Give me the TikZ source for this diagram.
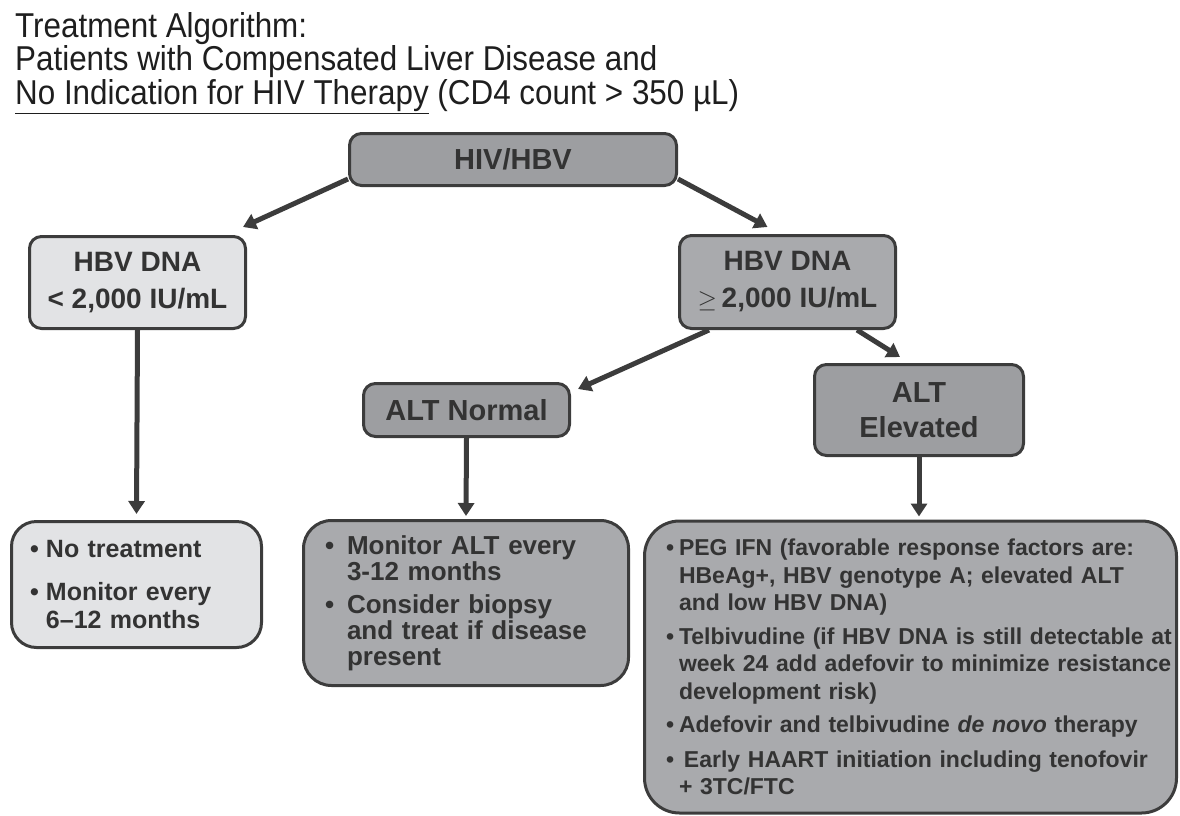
\documentclass[tikz,border=0pt]{standalone}
\usepackage{fontspec}
\setmainfont{Liberation Sans}
\newfontfamily\headfont{Liberation Sans}[FakeStretch=0.91]
\usetikzlibrary{arrows.meta}

\definecolor{boxdark}{HTML}{9D9EA1}
\definecolor{boxmid}{HTML}{A9AAAD}
\definecolor{boxlight}{HTML}{E2E3E5}
\definecolor{edgegray}{HTML}{3C3C3C}
\definecolor{inkgray}{HTML}{333333}
\definecolor{headink}{HTML}{1E1E1E}

\def\fs#1#2{\fontsize{#1}{#2}\selectfont}
\def\bul#1{\makebox[#1][l]{\textbullet}}

\tikzset{
  stepbox/.style={draw=edgegray, line width=3pt, rounded corners=12pt,
    text=inkgray, inner sep=0pt, align=center},
  darkbox/.style={stepbox, fill=boxdark},
  midbox/.style={stepbox, fill=boxmid},
  lightbox/.style={stepbox, fill=boxlight},
  listbox/.style={align=left},
  flow/.style={draw=edgegray, line width=5pt,
    -{Triangle[length=13pt,width=16pt]}}
}

\begin{document}
\begin{tikzpicture}[x=1pt, y=-1pt]
			%%%%% START %%%%%
			\useasboundingbox (0,0) rectangle (1180,816);

			\node[anchor=north west, inner sep=0pt, align=left, text=headink,
			  font=\headfont\fs{34.5}{33.5}] (head) at (15,12)
			  {Treatment Algorithm:\\
			   Patients with Compensated Liver Disease and\\
			   \underline{No Indication for HIV Therapy} (CD4 count > 350 µL)};

			\node[darkbox, minimum width=327pt, minimum height=52pt,
			  font=\bfseries\fs{29}{35}] (hiv) at (513,159.5) {HIV/HBV};

			\node[lightbox, minimum width=216pt, minimum height=92pt,
			  font=\bfseries\fs{28}{37}] (hbvlow) at (137.5,282.5)
			  {HBV DNA\\< 2,000 IU/mL};
			\node[midbox, minimum width=216pt, minimum height=93pt,
			  font=\bfseries\fs{28}{37}] (hbvhigh) at (787.5,282)
			  {HBV DNA\\{\fs{32}{37}$\geq$}\,2,000 IU/mL};

			\node[darkbox, minimum width=206pt, minimum height=53pt,
			  font=\bfseries\fs{29}{35}] (altn) at (466.5,410) {ALT Normal};
			\node[darkbox, minimum width=209pt, minimum height=91pt,
			  font=\bfseries\fs{29}{35}] (alte) at (919,410) {ALT\\Elevated};

			\node[lightbox, listbox, rounded corners=25pt, minimum width=250pt,
			  minimum height=126pt, text width=213pt, font=\bfseries\fs{25}{28}]
			  (nocare) at (136.5,584.5)
			  {\bul{16pt}No treatment\\[15pt]
			   \bul{16pt}Monitor every\\
			   \hspace*{16pt}6–12 months};

			\node[midbox, listbox, rounded corners=28pt, minimum width=325pt,
			  minimum height=165pt, text width=282pt, font=\bfseries\fs{26}{26}]
			  (monitor) at (466,603)
			  {\bul{22pt}Monitor ALT every\\
			   \hspace*{22pt}3-12 months\\[7pt]
			   \bul{22pt}Consider biopsy\\
			   \hspace*{22pt}and treat if disease\\
			   \hspace*{22pt}present};

			\node[midbox, listbox, rounded corners=35pt, minimum width=532pt,
			  minimum height=292pt, text width=489pt, font=\bfseries\fs{23}{27.5}]
			  (therapy) at (910.5,667)
			  {\bul{13pt}PEG IFN (favorable response factors are:\\
			   \hspace*{13pt}HBeAg+, HBV genotype A; elevated ALT\\
			   \hspace*{13pt}and low HBV DNA)\\[6pt]
			   \mbox{\bul{13pt}Telbivudine (if HBV DNA is still detectable at}\\
			   \mbox{\hspace*{13pt}week 24 add adefovir to minimize resistance}\\
			   \hspace*{13pt}development risk)\\[6pt]
			   \bul{13pt}Adefovir and telbivudine \textit{de novo} therapy\\[7pt]
			   \bul{13pt}\hspace*{5pt}Early HAART initiation including tenofovir\\
			   \hspace*{13pt}+ 3TC/FTC};

			% connectors
			\draw[flow] ([yshift=8pt]hiv.south west) -- ([xshift=-4pt,yshift=8pt]hbvlow.north east);
			\draw[flow] ([yshift=8pt]hiv.south east) -- ([xshift=-20pt,yshift=7pt]hbvhigh.north);
			\draw[flow] ([xshift=31pt]hbvhigh.south west) -- ([xshift=7pt,yshift=-7pt]altn.north east);
			\draw[flow] ([xshift=-40pt]hbvhigh.south east) -- ([xshift=-19pt,yshift=6pt]alte.north);

			\draw[flow] (hbvlow.south) -- ([yshift=6pt]nocare.north);
			\draw[flow] (altn.south) -- ([yshift=3pt]monitor.north);
			\draw[flow] (alte.south) -- ([yshift=3pt]alte.south |- therapy.north);

			%%%%% END %%%%%
\end{tikzpicture}
\end{document}
